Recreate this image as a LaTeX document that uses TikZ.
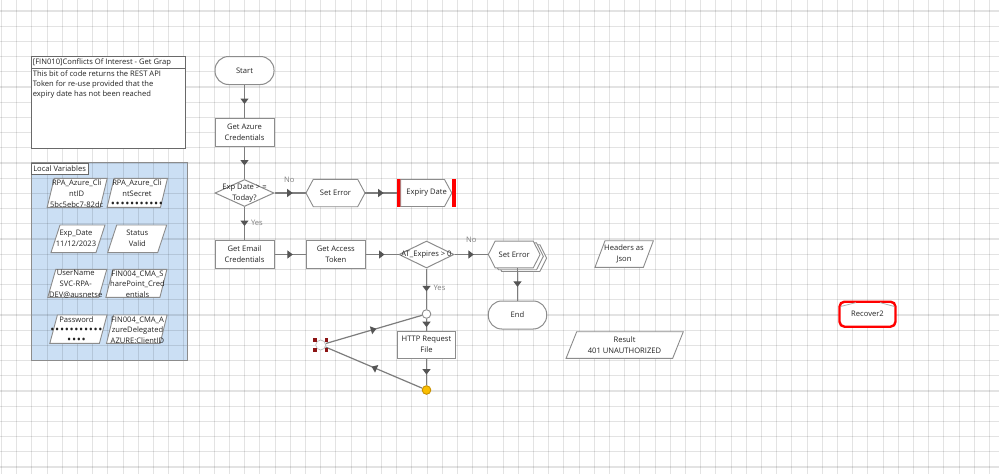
\documentclass[tikz,border=0pt]{standalone}
\usepackage{fontspec}
\setmainfont{Open Sans}
\usetikzlibrary{shapes.geometric,arrows.meta,decorations.markings,calc}
\definecolor{edgec}{RGB}{125,125,125}
\definecolor{tipc}{RGB}{85,85,85}
\definecolor{boxc}{RGB}{140,140,140}
\definecolor{varblue}{RGB}{203,223,244}
\definecolor{lblc}{RGB}{128,128,128}
\definecolor{txtc}{RGB}{35,35,35}
\definecolor{frm}{RGB}{105,105,105}
\definecolor{handlec}{RGB}{140,20,20}
\definecolor{yelc}{RGB}{250,190,0}
\definecolor{yelb}{RGB}{200,145,0}
\newcommand\hexshape[5]{% cx, cy, hw, hh, depth
 \draw[shp] (#1-#3,#2) -- (#1-#3+#5,#2-#4) -- (#1+#3-#5,#2-#4) -- (#1+#3,#2) -- (#1+#3-#5,#2+#4) -- (#1-#3+#5,#2+#4) -- cycle;}
\newcommand\parashape[5]{% cx, cy, hw, hh, d
 \draw[shp] (#1-#3+#5,#2-#4) -- (#1+#3+#5,#2-#4) -- (#1+#3-#5,#2+#4) -- (#1-#3-#5,#2+#4) -- cycle;}
\newcommand\pd{\makebox[4.8pt]{\fontsize{11}{10}\selectfont •}}
\begin{document}
\begin{tikzpicture}[x=1pt,y=-1pt,
 font=\fontsize{7.6}{10.8}\selectfont, text=txtc,
 base/.style={inner sep=0pt, align=center},
 proc/.style={base, draw=boxc, line width=1pt, fill=white, minimum width=59pt, minimum height=28pt},
 term/.style={proc, rounded corners=13.5pt},
 decision/.style={diamond, draw=boxc, line width=1pt, fill=white, inner sep=0pt, minimum width=59pt, minimum height=27pt},
 frame/.style={base, minimum width=#1, minimum height=27pt},
 shp/.style={draw=boxc, line width=0.9pt, fill=white},
 gridline/.style={draw=black, opacity=0.11, line width=1.1pt},
 flow/.style={draw=edgec, line width=1.2pt, postaction={decorate},
   decoration={markings, mark=at position 0.5 with {\arrow[xshift=2.5pt]{Triangle[length=5.5pt,width=8pt,color=tipc]}}}},
 lbl/.style={text=lblc, inner sep=1pt},
 dot/.style={circle, draw=boxc, line width=0.9pt, fill=white, inner sep=0pt, minimum size=8.6pt},
 ]
\useasboundingbox (0,0) rectangle (999,474);
\fill[white] (0,0) rectangle (999,474);
\fill[varblue] (31,162.7) rectangle (187,360);
\foreach \i in {0,...,65} \draw[gridline] (1.5+15.2*\i,0) -- (1.5+15.2*\i,474);
\foreach \j in {0,...,30} \draw[gridline] (0,11+15.2*\j) -- (999,11+15.2*\j);
\draw[draw=boxc, line width=0.8pt] (31,162.7) rectangle (187,360);

% comment box
\draw[draw=frm, fill=white, line width=0.9pt] (31,56) rectangle (185,148.3);
\draw[draw=frm, line width=0.9pt] (31,68.3) -- (185,68.3);
\node[anchor=west, inner sep=0pt] (ctitle) at (32.6,62.3) {[FIN010]Conflicts Of Interest - Get Grap};
\node[anchor=north west, align=left, inner sep=0pt, font=\fontsize{7.6}{10.2}\selectfont] (cbody) at (32.6,70)
 {This bit of code returns the REST API\\Token for re-use provided that the\\expiry date has not been reached};

% local variables
\draw[draw=frm, fill=white, line width=0.9pt] (31,163) rectangle (88.3,174);
\node[inner sep=0pt] (lvt) at (59.6,168.6) {Local Variables};

\parashape{77.2}{192.8}{26.5}{14.5}{3.5}
\node[base] (v1) at (76.7,193.5) {RPA\_Azure\_Cli\\ntID\\5bc5ebc7-82dc};
\parashape{137.3}{192.8}{26.7}{14.5}{3.5}
\node[base] (v2) at (137,193.5) {RPA\_Azure\_Cli\\ntSecret\\\pd\pd\pd\pd\pd\pd\pd\pd\pd\pd\pd};
\parashape{78}{238.8}{22.5}{13.8}{4.5}
\node[base] (v3) at (76,238) {Exp\_Date\\11/12/2023};
\parashape{137.2}{238.8}{25}{13.8}{4.5}
\node[base] (v4) at (137.3,238) {Status\\Valid};
\parashape{77.3}{283.3}{25.5}{14}{4}
\node[base] (v5) at (75.7,284.2) {UserName\\SVC-RPA-\\DEV@ausnetse};
\parashape{136.4}{283.3}{27}{14}{3.5}
\node[base] (v6) at (137.5,284.2) {FIN004\_CMA\_S\\harePoint\_Cred\\entials};
\parashape{78.4}{329.2}{24.8}{14.2}{3.8}
\node[base] (v7) at (76.5,330.2) {Password\\\pd\pd\pd\pd\pd\pd\pd\pd\pd\pd\pd\\\pd\pd\pd\pd};
\parashape{136.8}{329.2}{26.8}{14.2}{3.5}
\node[base] (v8) at (137.5,330.2) {FIN004\_CMA\_A\\zureDelegated\\AZURE:ClientID};

% main flow nodes
\node[term] (start) at (244.5,70.5) {Start};
\node[proc] (azure) at (244.5,132.5) {Get Azure\\Credentials};
\node[decision, label={[base]center:{Exp Date > =\\Today?}}] (d1) at (244.5,193) {};
\hexshape{335.5}{193}{29.5}{13.7}{7.3}
\node[frame=59pt] (se1) at (335.5,193) {Set Error};
\fill[red] (397.3,179.3) rectangle (400.7,206.7);
\draw[shp] (400.7,179.5) -- (444.5,179.5) -- (451.8,193) -- (444.5,206.5) -- (400.7,206.5) -- cycle;
\fill[red] (452.3,179.3) rectangle (456,206.7);
\node[frame=58.7pt] (exp) at (426.65,193) {Expiry Date};

\node[proc] (email) at (244.5,254.5) {Get Email\\Credentials};
\node[proc, minimum width=58.3pt] (token) at (335.85,254.5) {Get Access\\Token};
\node[decision, minimum width=55pt, label={[base]center:{AT\_Expires > 0}}] (d2) at (426.5,254.5) {};
\hexshape{520.8}{258.1}{25.85}{13.4}{6.8}
\hexshape{517.5}{256.3}{25.85}{13.4}{6.8}
\hexshape{514.2}{254.5}{25.85}{13.4}{6.8}
\node[frame=51.7pt] (se2) at (514.2,254.5) {Set Error};
\node[term, minimum width=58.4pt] (endn) at (517.5,315) {End};

\node[dot] (c1) at (426.5,314) {};
\node[proc, minimum width=58.7pt, minimum height=27.3pt] (http) at (426.5,344.7) {HTTP Request\\File};
\node[dot, fill=yelc, draw=yelb] (c2) at (426.5,390) {};
\node[circle, draw=boxc!60, line width=0.7pt, fill=white, inner sep=0pt, minimum size=10pt] (j) at (320.7,345) {};

\parashape{624.2}{254}{24.2}{13.3}{5}
\node[base] (hdr) at (624,254) {Headers as\\Json};
\parashape{624.7}{345}{53.3}{13.3}{5.3}
\node[base] (res) at (624.5,345) {Result\\401 UNAUTHORIZED};

\node[base, draw=red, line width=2.4pt, rounded corners=5pt, fill=white, minimum width=56pt, minimum height=25pt] (rec) at (867.5,314.2) {Recover2};
\draw[draw=boxc!70, line width=0.8pt] (840.5,306.5) -- (856,302.6);
\draw[draw=boxc!70, line width=0.8pt] (880,302.6) -- (894.5,306.5);

% connectors
\draw[flow] (start) -- (azure);
\draw[flow] (azure) -- (d1);
\draw[flow] (d1) -- node[lbl, pos=0.47, yshift=13pt] {No} (se1);
\draw[flow] (se1) -- (exp);
\draw[flow] (d1) -- node[lbl, anchor=west, pos=0.48, xshift=5pt] {Yes} (email);
\draw[flow] (email) -- (token);
\draw[flow] (token) -- (d2);
\draw[flow] (d2) -- node[lbl, pos=0.5, yshift=14.5pt] {No} (se2);
\draw[flow] (se2.south -| endn.north) -- (endn);
\draw[flow] (d2) -- node[lbl, anchor=west, pos=0.465, xshift=5.5pt] {Yes} (c1);
\draw[flow] (c1) -- (http);
\draw[flow] (http) -- (c2);
\draw[flow] (c2) -- (j);
\draw[flow] (j) -- (c1);

% selection handles
\foreach \hx/\hy in {315/340, 326.4/340, 315/350.2, 326.4/350.2}
  \fill[handlec] (\hx-1.8,\hy-1.8) rectangle (\hx+1.8,\hy+1.8);
\end{tikzpicture}
\end{document}
